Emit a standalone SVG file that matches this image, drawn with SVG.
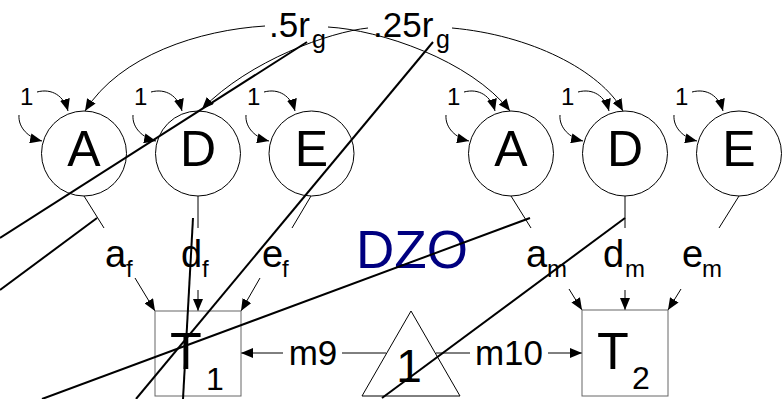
<svg xmlns="http://www.w3.org/2000/svg" width="782" height="399" viewBox="0 0 782 399">
<style>
text{font-family:"Liberation Sans",Arial,sans-serif;fill:#000}
.c{fill:#fff;stroke:#000;stroke-width:1}
.lt{fill:none;stroke:#000;stroke-width:1}
.ar{fill:none;stroke:#000;stroke-width:1;marker-end:url(#ah)}
.st{fill:none;stroke:#000;stroke-width:2}
.big{font-size:50px;text-anchor:middle}
.one{font-size:24px}
.lab{font-size:38px}
.sub{font-size:24px}
</style>
<defs>
<marker id="ah" markerUnits="userSpaceOnUse" markerWidth="12" markerHeight="10" refX="12" refY="5" orient="auto">
<path d="M0,0 L12,5 L0,10 z" fill="#000"/>
</marker>
</defs>
<rect width="782" height="399" fill="#fff"/>
<g id="connectors">
<path class="ar" d="M265,26 C200,30 120,55 85,111"/>
<path class="ar" d="M368,28 C330,32 250,60 202,109"/>
<path class="ar" d="M328,27 C380,30 470,60 510,111"/>
<path class="ar" d="M452,28 C530,35 600,70 623,111"/>
<path class="lt" d="M84,196 L104,228"/><path class="ar" d="M135,278 L155,311"/>
<path class="lt" d="M198,196 L198,228"/><path class="ar" d="M198,290 L198,311"/>
<path class="lt" d="M311,196 L292,228"/><path class="ar" d="M260,278 L241,311"/>
<path class="lt" d="M511,196 L531,228"/><path class="ar" d="M569,289 L582,310"/>
<path class="lt" d="M625,196 L625,228"/><path class="ar" d="M625,290 L625,310"/>
<path class="lt" d="M739,196 L719,228"/><path class="ar" d="M681,289 L668,310"/>
<path class="lt" d="M386,353 L342,353"/><path class="ar" d="M283,353 L241,353"/>
<path class="lt" d="M436,353 L470,353"/><path class="ar" d="M548,353 L582,353"/>
</g>
<g id="loops">
<g id="loopA1"><path class="ar" d="M37,92 C52,88 64,96 68,111"/><path class="ar" d="M19,115 C18,128 29,138 42,141"/><text class="one" x="20" y="105">1</text></g>
<g id="loopD1"><path class="ar" d="M151,92 C166,88 178,96 182,111"/><path class="ar" d="M133,115 C132,128 143,138 156,141"/><text class="one" x="134" y="105">1</text></g>
<g id="loopE1"><path class="ar" d="M264,92 C279,88 291,96 295,111"/><path class="ar" d="M246,115 C245,128 256,138 269,141"/><text class="one" x="247" y="105">1</text></g>
<g id="loopA2"><path class="ar" d="M464,92 C479,88 491,96 495,111"/><path class="ar" d="M446,115 C445,128 456,138 469,141"/><text class="one" x="447" y="105">1</text></g>
<g id="loopD2"><path class="ar" d="M578,92 C593,88 605,96 609,111"/><path class="ar" d="M560,115 C559,128 570,138 583,141"/><text class="one" x="561" y="105">1</text></g>
<g id="loopE2"><path class="ar" d="M692,92 C707,88 719,96 723,111"/><path class="ar" d="M674,115 C673,128 684,138 697,141"/><text class="one" x="675" y="105">1</text></g>
</g>
<g id="A1"><circle class="c" cx="84" cy="153.5" r="42.5"/><text class="big" x="84" y="166">A</text></g>
<g id="D1"><circle class="c" cx="198" cy="153.5" r="42.5"/><text class="big" x="198" y="166">D</text></g>
<g id="E1"><circle class="c" cx="311.5" cy="153.5" r="42.5"/><text class="big" x="311.5" y="166">E</text></g>
<g id="A2"><circle class="c" cx="511" cy="153.5" r="42.5"/><text class="big" x="511" y="166">A</text></g>
<g id="D2"><circle class="c" cx="625" cy="153.5" r="42.5"/><text class="big" x="625" y="166">D</text></g>
<g id="E2"><circle class="c" cx="739" cy="153.5" r="42.5"/><text class="big" x="739" y="166">E</text></g>
<g id="T1"><rect x="155" y="311" width="86" height="85" fill="#fff" stroke="#666" stroke-width="1"/><text x="170" y="369" font-size="52">T</text><text x="206" y="390" font-size="32">1</text></g>
<g id="T2"><rect x="582" y="310" width="86" height="86" fill="#fff" stroke="#666" stroke-width="1"/><text x="597" y="369" font-size="52">T</text><text x="632" y="389" font-size="32">2</text></g>
<g id="mean"><polygon points="411,311 362,396 460,396" fill="#fff" stroke="#000" stroke-width="1"/><text x="409" y="382" font-size="46" text-anchor="middle">1</text></g>
<g id="labels">
<text x="269" y="37" font-size="35">.5r</text><text x="312" y="48" font-size="25">g</text>
<text x="373" y="37" font-size="35">.25r</text><text x="436" y="48" font-size="25">g</text>
<text class="lab" x="105" y="267">a</text><text class="sub" x="126" y="277">f</text>
<text class="lab" x="181" y="267">d</text><text class="sub" x="202" y="277">f</text>
<text class="lab" x="262" y="267">e</text><text class="sub" x="282" y="277">f</text>
<text class="lab" x="526" y="267">a</text><text class="sub" x="547" y="277">m</text>
<text class="lab" x="603" y="267">d</text><text class="sub" x="625" y="277">m</text>
<text class="lab" x="682" y="267">e</text><text class="sub" x="702" y="277">m</text>
<text x="313" y="365" font-size="35" text-anchor="middle">m9</text>
<text x="509" y="365" font-size="35" text-anchor="middle">m10</text>
<text x="412" y="268" font-size="53" text-anchor="middle" style="fill:#000080">DZO</text>
</g>
<g id="strays">
<path class="st" d="M307,42 L0,238"/>
<path class="st" d="M97,218 L0,290"/>
<path class="st" d="M433,42 L136,399"/>
<path class="st" d="M193,218 L183,399"/>
<path class="st" d="M530,218 L42,399"/>
<path class="st" d="M625,218 L382,398"/>
</g>
</svg>
